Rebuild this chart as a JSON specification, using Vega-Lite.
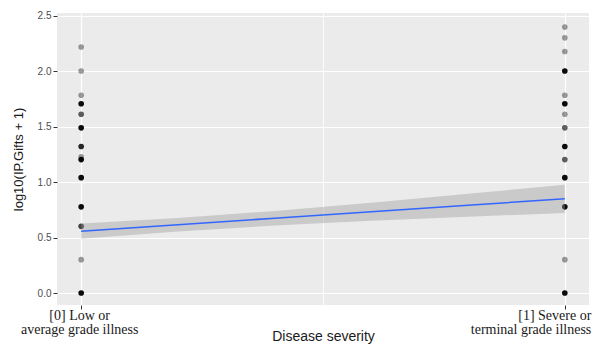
{
  "$schema": "https://vega.github.io/schema/vega-lite/v6.json",
  "width": 532,
  "height": 292,
  "autosize": {"type": "none"},
  "padding": {"left": 57, "top": 13, "right": 6, "bottom": 39},
  "background": "white",
  "config": {
    "view": {"fill": "#EBEBEB", "stroke": null},
    "axis": {"domain": false, "gridColor": "white", "tickColor": "#333333", "tickSize": 4, "labelColor": "#4D4D4D", "titleFontWeight": "normal", "titleColor": "#1a1a1a", "titleFont": "Liberation Sans"},
    "axisY": {
      "title": "log10(IP.Gifts + 1)",
      "values": [0, 0.25, 0.5, 0.75, 1, 1.25, 1.5, 1.75, 2, 2.25, 2.5],
      "labelExpr": "datum.value % 0.5 == 0 ? format(datum.value, '.1f') : ''",
      "labelFont": "Liberation Sans",
      "labelFontSize": 10,
      "labelPadding": 2,
      "tickOpacity": {"condition": {"test": "datum.value % 0.5 != 0", "value": 0}, "value": 1},
      "gridWidth": {"condition": {"test": "datum.value % 0.5 != 0", "value": 0.6}, "value": 1.2},
      "titleFontSize": 13,
      "titlePadding": 12
    }
  },
  "datasets": {
    "points": [
      {"severity": 0, "gifts": 2.22, "n": 1},
      {"severity": 0, "gifts": 2.004, "n": 1},
      {"severity": 0, "gifts": 1.785, "n": 1},
      {"severity": 0, "gifts": 1.708, "n": 5},
      {"severity": 0, "gifts": 1.613, "n": 2},
      {"severity": 0, "gifts": 1.491, "n": 5},
      {"severity": 0, "gifts": 1.322, "n": 4},
      {"severity": 0, "gifts": 1.23, "n": 1},
      {"severity": 0, "gifts": 1.204, "n": 5},
      {"severity": 0, "gifts": 1.041, "n": 5},
      {"severity": 0, "gifts": 0.778, "n": 5},
      {"severity": 0, "gifts": 0.602, "n": 3},
      {"severity": 0, "gifts": 0.301, "n": 1},
      {"severity": 0, "gifts": 0, "n": 5},
      {"severity": 1, "gifts": 2.4, "n": 1},
      {"severity": 1, "gifts": 2.303, "n": 1},
      {"severity": 1, "gifts": 2.18, "n": 1},
      {"severity": 1, "gifts": 2.004, "n": 5},
      {"severity": 1, "gifts": 1.785, "n": 1},
      {"severity": 1, "gifts": 1.708, "n": 5},
      {"severity": 1, "gifts": 1.613, "n": 1},
      {"severity": 1, "gifts": 1.491, "n": 2},
      {"severity": 1, "gifts": 1.322, "n": 5},
      {"severity": 1, "gifts": 1.204, "n": 2},
      {"severity": 1, "gifts": 1.041, "n": 5},
      {"severity": 1, "gifts": 0.778, "n": 5},
      {"severity": 1, "gifts": 0.301, "n": 1},
      {"severity": 1, "gifts": 0, "n": 5}
    ],
    "fit": [
      {"severity": 0, "fit": 0.558, "lo": 0.489, "hi": 0.627},
      {"severity": 0.2, "fit": 0.616, "lo": 0.555, "hi": 0.677},
      {"severity": 0.4, "fit": 0.675, "lo": 0.609, "hi": 0.741},
      {"severity": 0.6, "fit": 0.733, "lo": 0.652, "hi": 0.814},
      {"severity": 0.8, "fit": 0.792, "lo": 0.689, "hi": 0.895},
      {"severity": 1, "fit": 0.85, "lo": 0.723, "hi": 0.977}
    ]
  },
  "encoding": {
    "x": {
      "field": "severity",
      "type": "quantitative",
      "scale": {"domain": [-0.05, 1.05], "nice": false, "zero": false},
      "axis": {
        "title": "Disease severity",
        "values": [0, 0.5, 1],
        "labelExpr": "datum.value == 0 ? ['[0] Low or', 'average grade illness'] : (datum.value == 1 ? ['[1] Severe or', 'terminal grade illness'] : '')",
        "labelFont": "Liberation Serif",
        "labelFontSize": 14,
        "labelLineHeight": 14,
        "labelColor": "#1a1a1a",
        "labelPadding": -1,
        "labelBound": false,
        "labelFlush": false,
        "labelOverlap": false,
        "labelAlign": {"condition": {"test": "datum.value == 1", "value": "right"}, "value": "center"},
        "labelOffset": {"condition": {"test": "datum.value == 1", "value": 26}, "value": -2},
        "tickOpacity": {"condition": {"test": "datum.value == 0.5", "value": 0}, "value": 1},
        "gridWidth": {"condition": {"test": "datum.value == 0.5", "value": 0.8}, "value": 1.2},
        "titleFontSize": 14,
        "titleBaseline": "alphabetic",
        "titleY": 35
      }
    }
  },
  "layer": [
    {
      "data": {"name": "points"},
      "mark": {"type": "circle", "size": 32, "color": "black"},
      "encoding": {
        "y": {
          "field": "gifts",
          "type": "quantitative",
          "scale": {"domain": [-0.108, 2.527], "nice": false, "zero": false},
          "title": "log10(IP.Gifts + 1)"
        },
        "opacity": {
          "field": "n",
          "type": "quantitative",
          "scale": {"domain": [1, 2, 5], "range": [0.38, 0.62, 0.96]},
          "legend": null
        }
      }
    },
    {
      "data": {"name": "fit"},
      "mark": {"type": "area", "color": "#999999", "opacity": 0.4},
      "encoding": {
        "y": {"field": "lo", "type": "quantitative", "title": "log10(IP.Gifts + 1)"},
        "y2": {"field": "hi"}
      }
    },
    {
      "data": {"name": "fit"},
      "mark": {"type": "line", "color": "#3366FF", "strokeWidth": 1.5},
      "encoding": {
        "y": {"field": "fit", "type": "quantitative", "title": "log10(IP.Gifts + 1)"}
      }
    }
  ]
}
